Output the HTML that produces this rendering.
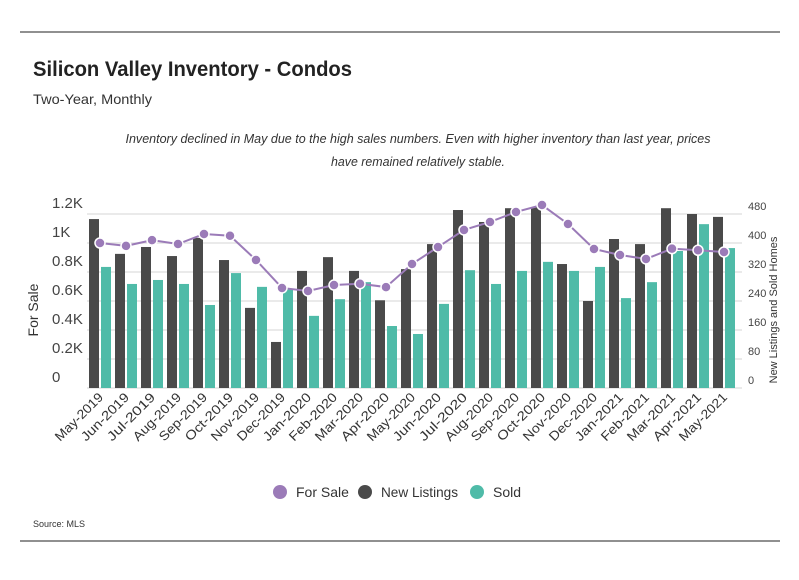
<!DOCTYPE html>
<html><head><meta charset="utf-8"><style>
body{margin:0;background:#fff;font-family:"Liberation Sans",sans-serif;}
svg text{font-family:"Liberation Sans",sans-serif;}
</style></head><body>
<svg width="799" height="575">
<line x1="20" y1="32" x2="780" y2="32" stroke="#222" stroke-width="1"/>
<line x1="20" y1="541" x2="780" y2="541" stroke="#222" stroke-width="1"/>
<text x="33" y="76" font-size="21" font-weight="bold" fill="#222" textLength="319" lengthAdjust="spacingAndGlyphs">Silicon Valley Inventory - Condos</text>
<text x="33" y="104" font-size="14" fill="#333" textLength="119" lengthAdjust="spacingAndGlyphs">Two-Year, Monthly</text>
<text x="418" y="143" font-size="13" font-style="italic" fill="#333" text-anchor="middle" textLength="585" lengthAdjust="spacingAndGlyphs">Inventory declined in May due to the high sales numbers. Even with higher inventory than last year, prices</text>
<text x="418" y="166" font-size="13" font-style="italic" fill="#333" text-anchor="middle" textLength="174" lengthAdjust="spacingAndGlyphs">have remained relatively stable.</text>
<g id="grid"></g><g id="bars"></g><g id="line"></g><g id="axes"></g>
<text transform="translate(38,310) rotate(-90)" font-size="14" fill="#333" text-anchor="middle">For Sale</text>
<text transform="translate(777,310) rotate(-90)" font-size="11" fill="#333" text-anchor="middle">New Listings and Sold Homes</text>
<g>
<circle cx="280" cy="492" r="7" fill="#9b7bb8"/>
<text x="296" y="497" font-size="14" fill="#333">For Sale</text>
<circle cx="365" cy="492" r="7" fill="#4a4a4a"/>
<text x="381" y="497" font-size="14" fill="#333" textLength="77" lengthAdjust="spacingAndGlyphs">New Listings</text>
<circle cx="477" cy="492" r="7" fill="#4fbba8"/>
<text x="493" y="497" font-size="14" fill="#333">Sold</text>
</g>
<text x="33" y="527" font-size="9" fill="#333">Source:  MLS</text>
</svg>
<script>
const months=["May-2019","Jun-2019","Jul-2019","Aug-2019","Sep-2019","Oct-2019","Nov-2019","Dec-2019","Jan-2020","Feb-2020","Mar-2020","Apr-2020","May-2020","Jun-2020","Jul-2020","Aug-2020","Sep-2020","Oct-2020","Nov-2020","Dec-2020","Jan-2021","Feb-2021","Mar-2021","Apr-2021","May-2021"];
const forSale=[1000,980,1020,993,1062,1050,883,690,669,710,719,696,855,972,1090,1145,1214,1262,1131,959,917,890,961,950,938];
const newListings=[466,370,389,364,414,353,221,127,323,361,323,242,328,397,491,458,496,499,342,240,411,397,496,480,472];
const sold=[334,287,298,287,229,317,279,273,199,245,292,171,149,232,325,287,323,348,323,334,248,292,378,452,386];
const leftTicks=["0","0.2K","0.4K","0.6K","0.8K","1K","1.2K"];
const rightTicks=["0","80","160","240","320","400","480"];
const NS="http://www.w3.org/2000/svg";
const x0=87,step=26,base=388,top0=214,H=base-top0;
const yL=v=>base-v/1200*H, yR=v=>base-v/480*H;
function mk(t,a,p){const e=document.createElementNS(NS,t);for(const k in a)e.setAttribute(k,a[k]);p.appendChild(e);return e;}
const grid=document.getElementById('grid'),axes=document.getElementById('axes'),bars=document.getElementById('bars'),line=document.getElementById('line');
leftTicks.forEach((t,i)=>{const y=base-i*H/6;
 const g=mk('line',{x1:x0,x2:742,y1:y,y2:y,stroke:'#e3e3e3','stroke-width':1.5},grid);
 
 
 const tl=mk('text',{x:52,y:y-6,'font-size':15,fill:'#444'},axes);tl.textContent=t;
 
 
 const tr=mk('text',{x:748,y:y-4,'font-size':11,fill:'#444'},axes);tr.textContent=rightTicks[i];
 
 
});
months.forEach((m,i)=>{const gx=x0+i*step;
 const b1=mk('rect',{x:gx+2,y:yR(newListings[i]),width:10,height:base-yR(newListings[i]),fill:'#4a4a4a'},bars);
 
 
 const b2=mk('rect',{x:gx+14,y:yR(sold[i]),width:10,height:base-yR(sold[i]),fill:'#4fbba8'},bars);
 
 
 const cx=gx+13;
 const t=mk('text',{transform:`translate(${cx+4},${base+10}) rotate(-45)`,'font-size':13,fill:'#333','text-anchor':'end',textLength:62,lengthAdjust:'spacingAndGlyphs'},axes);t.textContent=m;
 
 
});
const pts=forSale.map((v,i)=>[x0+i*step+13,yL(v)]);
const pl=mk('polyline',{points:pts.map(p=>p.join(',')).join(' '),fill:'none',stroke:'#9b7bb8','stroke-width':2},line);


pts.forEach(p=>{const c=mk('circle',{cx:p[0],cy:p[1],r:5,fill:'#9b7bb8',stroke:'#fff','stroke-width':1.5},line);
 
 
});
</script>
</body></html>
